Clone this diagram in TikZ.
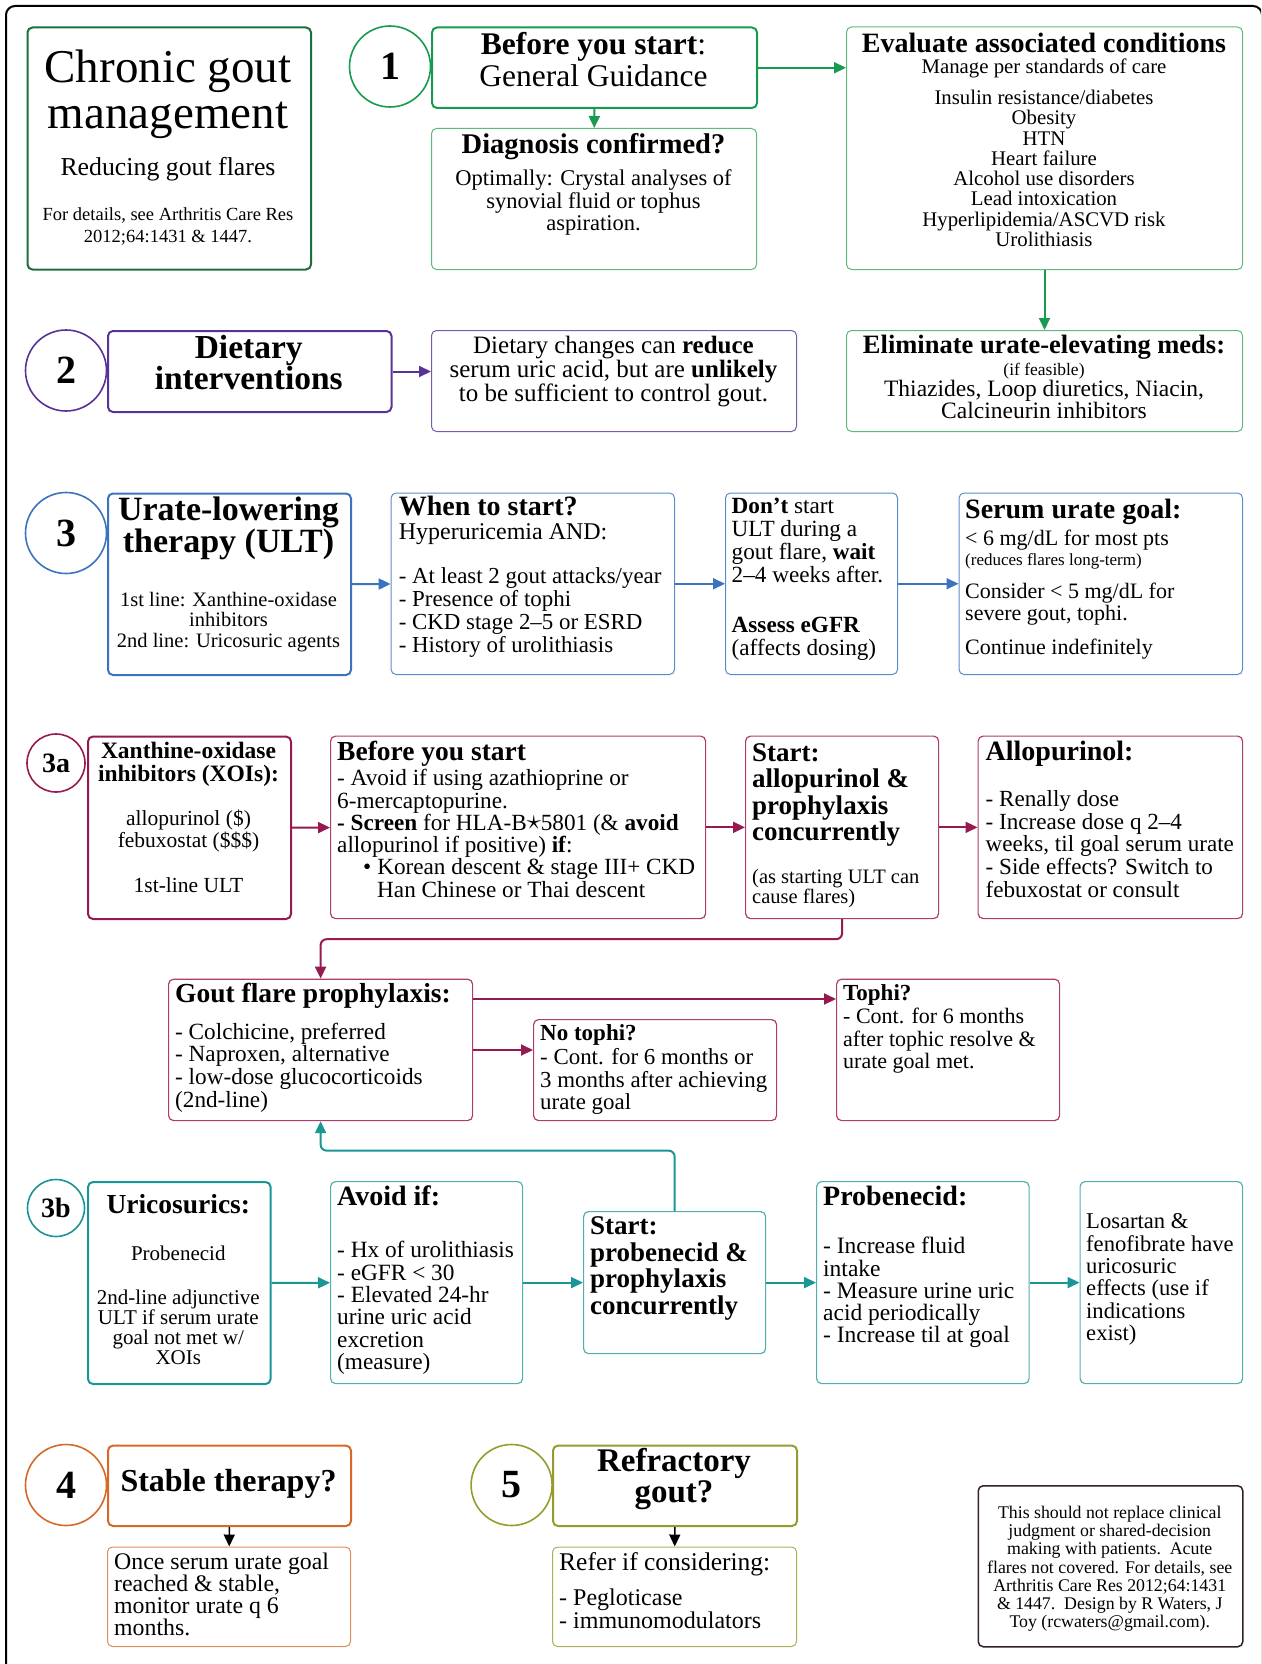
\documentclass[tikz,border=0pt]{standalone}
\usepackage{fontspec}
\setmainfont{Liberation Serif}
\usetikzlibrary{arrows.meta}

\definecolor{titlegrn}{RGB}{28,110,60}
\definecolor{grn}{RGB}{24,155,80}
\definecolor{lgrn}{RGB}{95,185,125}
\definecolor{purp}{RGB}{88,50,150}
\definecolor{lpurp}{RGB}{120,90,175}
\definecolor{blu}{RGB}{60,115,190}
\definecolor{lblu}{RGB}{90,140,205}
\definecolor{maro}{RGB}{150,25,80}
\definecolor{lmaro}{RGB}{175,60,110}
\definecolor{tl}{RGB}{25,150,150}
\definecolor{ltl}{RGB}{80,175,175}
\definecolor{orng}{RGB}{215,105,40}
\definecolor{lorng}{RGB}{225,140,90}
\definecolor{oliv}{RGB}{150,155,45}
\definecolor{loliv}{RGB}{175,175,90}
\definecolor{dkbox}{RGB}{50,30,45}

\newcommand{\fsz}[2]{\fontsize{#1pt}{#2pt}\selectfont}

\tikzset{
  box/.style={draw=#1, rounded corners=5pt, anchor=north west, inner sep=0pt, line width=1pt},
  lt/.style={anchor=north west, align=left, inner sep=0pt},
  ct/.style={anchor=north, align=center, inner sep=0pt},
  num/.style={shape=circle, draw=#1, line width=1.6pt, inner sep=0pt, minimum size=81pt, font=\fsz{40}{40}\bfseries},
  arr/.style={draw=#1, line width=2pt, -{Triangle[length=12pt,width=11pt]}},
}

\begin{document}
\begin{tikzpicture}[x=1pt, y=-1pt]
    \useasboundingbox (0,0) rectangle (1261,1664);
    \clip (0,0) rectangle (1261,1664);
    \draw[line width=2pt, rounded corners=9pt] (6,1700) -- (6,6) -- (1262,6) -- (1262,1700);

    \node[box=titlegrn, line width=2pt, minimum width=283.5pt, minimum height=242pt] (title) at (26.5,26.5) {};
    \node[ct, font=\fsz{47}{46}] (titletxt) at (168,49.5) {Chronic gout\\management};
    \node[ct, font=\fsz{25.8}{25}] (subtxt) at (168,157.2) {Reducing gout flares};
    \node[ct, font=\fsz{18.5}{22}] (reftxt) at (168,207.3) {For details, see Arthritis Care Res\\2012;64:1431 \& 1447.};

    \node[num=grn] (n1) at (390,66.5) {1};
    \node[box=grn, line width=2pt, minimum width=325pt, minimum height=80.5pt] (before) at (431,26.5) {};
    \node[ct, font=\fsz{31.5}{32}] (beforetxt) at (593.5,32.3) {\textbf{Before you start}:\\General Guidance};
    \node[box=lgrn, minimum width=325pt, minimum height=141pt] (diag) at (431,128) {};
    \node[ct, font=\fsz{28.5}{28.5}\bfseries] (diaghead) at (593.5,133.3) {Diagnosis confirmed?};
    \node[ct, font=\fsz{22.5}{22.5}] (diagtxt) at (593.5,169.5) {Optimally: Crystal analyses of\\synovial fluid or tophus\\aspiration.};
    \node[box=lgrn, minimum width=396pt, minimum height=242.5pt] (eval) at (846,26.5) {};
    \node[ct, font=\fsz{28}{28}\bfseries] (evalhead) at (1044,32.4) {Evaluate associated conditions};
    \node[ct, font=\fsz{20.8}{20.3}] (evaltxt) at (1044,58.6) {Manage per standards of care\\[10.7pt]Insulin resistance/diabetes\\Obesity\\HTN\\Heart failure\\Alcohol use disorders\\Lead intoxication\\Hyperlipidemia/ASCVD risk\\Urolithiasis};

    \node[num=purp] (n2) at (66,370.5) {2};
    \node[box=purp, line width=2pt, minimum width=283.5pt, minimum height=81pt] (diet) at (107,330) {};
    \node[ct, font=\fsz{33.5}{31}\bfseries] (diettxt) at (248.75,334.9) {Dietary\\interventions};
    \node[box=lpurp, minimum width=365pt, minimum height=101pt] (dietnote) at (431,330) {};
    \node[ct, font=\fsz{25}{24}] (dietnotetxt) at (613.5,336.2) {Dietary changes can \textbf{reduce}\\serum uric acid, but are \textbf{unlikely}\\to be sufficient to control gout.};
    \node[box=lgrn, minimum width=396pt, minimum height=101pt] (elim) at (846,330) {};
    \node[ct, font=\fsz{26.5}{26.5}\bfseries] (elimhead) at (1044,335.2) {Eliminate urate-elevating meds:};
    \node[ct, font=\fsz{17.5}{17}] (elimsub) at (1044,362.7) {(if feasible)};
    \node[ct, font=\fsz{23.5}{22}] (elimtxt) at (1044,379.8) {Thiazides, Loop diuretics, Niacin,\\Calcineurin inhibitors};

    \draw[arr=grn] (before) -- (diag);
    \draw[arr=grn] (before.east) -- (before.east -| eval.west);
    \draw[arr=grn] (eval) -- (elim);
    \draw[arr=purp] (diet.east) -- (diet.east -| dietnote.west);

    \node[num=blu] (n3) at (66,533) {3};
    \node[box=blu, line width=2pt, minimum width=243pt, minimum height=181.5pt] (ult) at (107,492.5) {};
    \node[ct, font=\fsz{34}{31}\bfseries] (ulthead) at (228.5,496.5) {Urate-lowering\\therapy (ULT)};
    \node[ct, font=\fsz{20.5}{20.5}] (ulttxt) at (228.5,592) {1st line: Xanthine-oxidase\\inhibitors\\2nd line: Uricosuric agents};
    \node[box=lblu, minimum width=283.4pt, minimum height=181.5pt] (when) at (390.6,492.5) {};
    \node[lt, font=\fsz{28}{28}\bfseries] (whenhead) at (398.6,495.7) {When to start?};
    \node[lt, font=\fsz{22.9}{22.8}] (whentxt) at (398.6,523.8) {{\fsz{24}{24}Hyperuricemia AND:}\\[21.2pt]- At least 2 gout attacks/year\\- Presence of tophi\\- CKD stage 2--5 or ESRD\\- History of urolithiasis};
    \node[box=lblu, minimum width=172pt, minimum height=181.5pt] (dont) at (725,492.5) {};
    \node[lt, font=\fsz{23.2}{23}] (donttxt) at (731.5,497.5) {\textbf{Don't} start\\ULT during a\\gout flare, \textbf{wait}\\2--4 weeks after.\\[27pt]\textbf{Assess eGFR}\\(affects dosing)};
    \node[box=lblu, minimum width=283.5pt, minimum height=181.5pt] (goal) at (958.5,492.5) {};
    \node[lt, font=\fsz{28}{28}\bfseries] (goalhead) at (965,498.7) {Serum urate goal:};
    \node[lt, font=\fsz{22}{22.4}] (goaltxt) at (965,530.3) {< 6 mg/dL for most pts\\[-2.9pt]{\fsz{17}{17}(reduces flares long-term)}\\[10.2pt]Consider < 5 mg/dL for\\severe gout, tophi.\\[12pt]Continue indefinitely};

    \draw[arr=blu] (ult) -- (when);
    \draw[arr=blu] (when) -- (dont);
    \draw[arr=blu] (dont) -- (goal);

    \node[num=maro, minimum size=58pt, font=\fsz{28}{28}\bfseries] (n3a) at (56,763) {3a};
    \node[box=maro, line width=2pt, minimum width=203pt, minimum height=182.5pt] (xoi) at (87,735.5) {};
    \node[ct, font=\fsz{23.5}{23}\bfseries] (xoihead) at (188.5,741.8) {Xanthine-oxidase\\inhibitors (XOIs):};
    \node[ct, font=\fsz{21.5}{22}] (xoitxt) at (188.5,810.2) {allopurinol (\$)\\febuxostat (\$\$\$)\\[22.5pt]1st-line ULT};
    \node[box=lmaro, line width=1.2pt, minimum width=375pt, minimum height=182.5pt] (prep) at (330,735.5) {};
    \node[lt, font=\fsz{27.5}{27.5}\bfseries] (prephead) at (337,741) {Before you start};
    \node[lt, font=\fsz{23.2}{22.3}] (preptxt) at (337,769.2) {- Avoid if using azathioprine or\\6-mercaptopurine.\\\textbf{- Screen} for HLA-B\raisebox{1pt}{\scalebox{1.15}{$\star$}}5801 (\& \textbf{avoid}\\allopurinol if positive) \textbf{if}:\\\hspace*{26pt}\textbullet\hspace{6pt}Korean descent \& stage III+ CKD\\\hspace*{40pt}Han Chinese or Thai descent};
    \node[box=lmaro, line width=1.2pt, minimum width=193pt, minimum height=182.5pt] (startallo) at (745,735.5) {};
    \node[lt, font=\fsz{27}{26.5}\bfseries] (startallohead) at (752,743.4) {Start:\\allopurinol \&\\prophylaxis\\concurrently};
    \node[lt, font=\fsz{20.5}{20}] (startallotxt) at (752,869.5) {(as starting ULT can\\cause flares)};
    \node[box=lmaro, line width=1.2pt, minimum width=264.5pt, minimum height=182.5pt] (allo) at (977.5,735.5) {};
    \node[lt, font=\fsz{28}{28}\bfseries] (allohead) at (985.5,740.7) {Allopurinol:};
    \node[lt, font=\fsz{23.1}{22.6}] (allotxt) at (985.5,790.5) {- Renally dose\\- Increase dose q 2--4\\weeks, til goal serum urate\\- Side effects? Switch to\\febuxostat or consult};

    \node[box=lmaro, line width=1.2pt, minimum width=304pt, minimum height=141.4pt] (gout) at (168,978.6) {};
    \node[lt, font=\fsz{27.5}{27.5}\bfseries] (gouthead) at (175,983) {Gout flare prophylaxis:};
    \node[lt, font=\fsz{23.2}{22.8}] (gouttxt) at (175,1022.5) {- Colchicine, preferred\\- Naproxen, alternative\\- low-dose glucocorticoids\\(2nd-line)};
    \node[box=lmaro, line width=1.2pt, minimum width=243pt, minimum height=101pt] (notophi) at (533,1019) {};
    \node[lt, font=\fsz{23}{23}\bfseries] (notophihead) at (540,1024) {No tophi?};
    \node[lt, font=\fsz{22.9}{22.5}] (notophitxt) at (540,1048.5) {- Cont. for 6 months or\\3 months after achieving\\urate goal};
    \node[box=lmaro, line width=1.2pt, minimum width=223pt, minimum height=141.4pt] (tophi) at (836,978.6) {};
    \node[lt, font=\fsz{23}{23}\bfseries] (tophihead) at (843,984) {Tophi?};
    \node[lt, font=\fsz{22}{22.5}] (tophitxt) at (843,1008) {- Cont. for 6 months\\after tophic resolve \&\\urate goal met.};

    \draw[arr=maro] (xoi) -- (prep);
    \draw[arr=maro] (prep) -- (startallo);
    \draw[arr=maro] (startallo) -- (allo);
    \draw[arr=maro, rounded corners=6pt] (startallo.south) -- ++(0,20) -| (gout.north);
    \coordinate (tophiin) at ([yshift=-20.4pt]tophi.north west);
    \coordinate (notophiin) at ([yshift=-31pt]notophi.north west);
    \draw[arr=maro] (gout.east |- tophiin) -- (tophiin);
    \draw[arr=maro] (gout.east |- notophiin) -- (notophiin);

    \node[num=tl, minimum size=57pt, font=\fsz{28}{28}\bfseries] (n3b) at (56,1208) {3b};
    \node[box=tl, line width=2pt, minimum width=182.6pt, minimum height=202pt] (uric) at (87,1181) {};
    \node[ct, font=\fsz{27.5}{27.5}\bfseries] (urichead) at (178.3,1194) {Uricosurics:};
    \node[ct, font=\fsz{21}{19.8}] (urictxt) at (178.3,1245.6) {Probenecid\\[24.7pt]2nd-line adjunctive\\ULT if serum urate\\goal not met w/\\XOIs};
    \node[box=ltl, line width=1.2pt, minimum width=192pt, minimum height=202pt] (avoid) at (330,1181) {};
    \node[lt, font=\fsz{28}{28}\bfseries] (avoidhead) at (337,1185.7) {Avoid if:};
    \node[lt, font=\fsz{23.3}{22.3}] (avoidtxt) at (337,1241.2) {- Hx of urolithiasis\\- eGFR < 30\\- Elevated 24-hr\\urine uric acid\\excretion\\(measure)};
    \node[box=ltl, line width=1.2pt, minimum width=182pt, minimum height=142pt] (startprob) at (583,1211) {};
    \node[lt, font=\fsz{27}{26.5}\bfseries] (startprobhead) at (590,1216.9) {Start:\\probenecid \&\\prophylaxis\\concurrently};
    \node[box=ltl, line width=1.2pt, minimum width=212.5pt, minimum height=202pt] (prob) at (816,1181) {};
    \node[lt, font=\fsz{28}{28}\bfseries] (probhead) at (823,1185.7) {Probenecid:};
    \node[lt, font=\fsz{23.5}{22.3}] (probtxt) at (823,1237) {- Increase fluid\\intake\\- Measure urine uric\\acid periodically\\- Increase til at goal};
    \node[box=ltl, line width=1.2pt, minimum width=162.5pt, minimum height=202pt] (losartan) at (1079.5,1181) {};
    \node[lt, font=\fsz{22.6}{22.3}] (losartantxt) at (1086,1213.6) {Losartan \&\\fenofibrate have\\uricosuric\\effects (use if\\indications\\exist)};

    \draw[arr=tl] (uric) -- (avoid);
    \draw[arr=tl] (avoid) -- (startprob);
    \draw[arr=tl] (startprob) -- (prob);
    \draw[arr=tl] (prob) -- (losartan);
    \draw[arr=tl, rounded corners=6pt] (startprob.north) -- ++(0,-60.4) -| (gout.south);

    \node[num=orng] (n4) at (66,1485) {4};
    \node[box=orng, line width=2pt, minimum width=243pt, minimum height=80.4pt] (stable) at (107,1444.6) {};
    \node[ct, font=\fsz{32}{32}\bfseries] (stabletxt) at (228.5,1469) {Stable therapy?};
    \node[box=lorng, minimum width=243pt, minimum height=99.5pt] (once) at (107,1546.5) {};
    \node[lt, font=\fsz{23.8}{22.2}] (oncetxt) at (114,1552.3) {Once serum urate goal\\reached \& stable,\\monitor urate q 6\\months.};
    \draw[arr=black, line width=1.5pt] (stable) -- (once);

    \node[num=oliv] (n5) at (511.6,1485) {5};
    \node[box=oliv, line width=2pt, minimum width=244pt, minimum height=80.4pt] (refr) at (552,1444.6) {};
    \node[ct, font=\fsz{33}{31}\bfseries] (refrtxt) at (674,1448.2) {Refractory\\gout?};
    \node[box=loliv, minimum width=244pt, minimum height=99.5pt] (refer) at (552,1546.5) {};
    \node[lt, font=\fsz{24}{23}] (refertxt) at (559,1552.5) {{\fsz{25.5}{25}Refer if considering:}\\[12pt]- Pegloticase\\- immunomodulators};
    \draw[arr=black, line width=1.5pt] (refr) -- (refer);

    \node[box=dkbox, line width=1.5pt, minimum width=264.5pt, minimum height=161pt] (disc) at (977.5,1485) {};
    \node[ct, font=\fsz{17.8}{18.2}] (disctxt) at (1109.75,1506) {This should not replace clinical\\judgment or shared-decision\\making with patients.\ \ Acute\\flares not covered. For details, see\\Arthritis Care Res 2012;64:1431\\\& 1447.\ \ Design by R Waters, J\\Toy (rcwaters@gmail.com).};
\end{tikzpicture}
\end{document}
